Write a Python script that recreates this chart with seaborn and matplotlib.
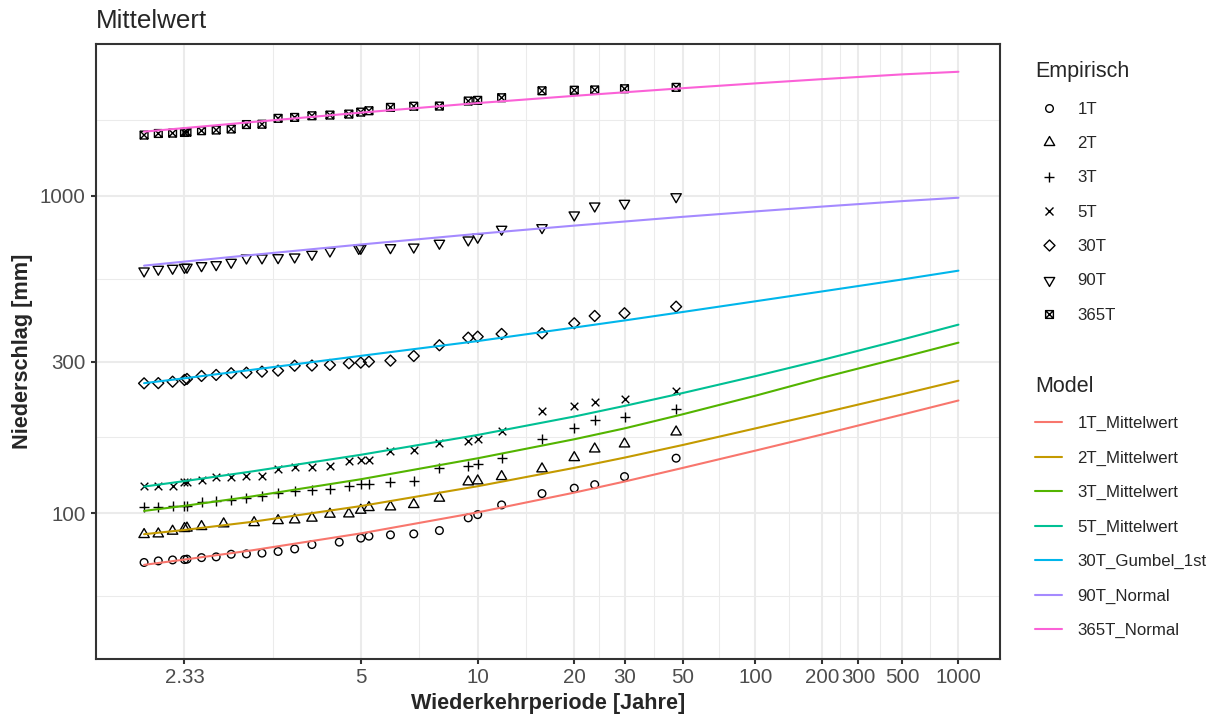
import numpy as np
import pandas as pd
import matplotlib
matplotlib.use("Agg")
import matplotlib.pyplot as plt
from matplotlib.path import Path
from matplotlib.lines import Line2D
from matplotlib.ticker import FixedLocator, FixedFormatter, NullFormatter
from statistics import NormalDist
import seaborn as sns

sns.set_theme(style="white")
plt.rcParams["font.family"] = ["Liberation Sans", "DejaVu Sans"]

# ---------------------------------------------------------------------------
# Empirical quantiles: return period [years] and precipitation [mm]
# ---------------------------------------------------------------------------
t_1T = [2.043, 2.136, 2.238, 2.33, 2.35, 2.474, 2.611, 2.765, 2.938, 3.133, 3.357, 3.615,
        3.917, 4.476, 5, 5.222, 5.875, 6.714, 7.833, 9.4, 10, 11.75, 15.67, 20, 23.5, 30, 47]
p_1T = [69.9, 70.7, 71.2, 71.4, 71.6, 72.4, 72.8, 74.2, 74.4, 74.8, 75.7, 77.1,
        79.6, 81.0, 83.4, 84.6, 85.4, 86.0, 88.1, 96.6, 98.9, 106.1, 115.2, 119.8, 122.9, 130.3, 148.9]

t_2T = [2.043, 2.136, 2.238, 2.33, 2.35, 2.474, 2.686, 3.032, 3.357, 3.615, 3.917, 4.273,
        4.7, 5, 5.222, 5.875, 6.714, 7.833, 9.4, 10, 11.75, 15.67, 20, 23.5, 30, 47]
p_2T = [85.6, 86.0, 87.7, 89.4, 89.7, 90.7, 92.5, 93.3, 94.7, 95.2, 96.4, 99.2,
        99.4, 102.1, 104.1, 104.6, 106.4, 111.4, 125.4, 126.3, 130.3, 137.8, 149.5, 159.2, 165.1, 180.1]

t_3T = [2.043, 2.136, 2.238, 2.33, 2.35, 2.474, 2.611, 2.765, 2.938, 3.133, 3.357, 3.615, 3.917,
        4.273, 4.7, 5, 5.222, 5.875, 6.714, 7.833, 9.4, 10, 11.75, 15.67, 20, 23.5, 30, 47]
p_3T = [104.3, 104.6, 104.9, 105.3, 105.6, 108.2, 109.5, 110.0, 111.4, 113.3, 115.5, 117.7, 118.3,
        119.4, 121.5, 123.3, 123.8, 125.4, 126.6, 139.0, 141.1, 142.5, 148.9, 171.2, 185.0, 196.5,
        200.4, 213.3]

t_5T = t_3T
p_5T = [121.5, 121.8, 122.1, 124.9, 125.3, 127.2, 129.7, 130.2, 130.5, 130.9, 137.5, 139.3, 139.7,
        140.8, 146.3, 146.6, 146.9, 157.3, 157.9, 166.7, 168.8, 171.2, 181.4, 210.2, 217.5, 223.4,
        228.3, 242.4]

t_30T = t_3T
p_30T = [256.2, 256.6, 259.3, 262.6, 264.5, 270.3, 272.3, 275.7, 276.8, 278.9, 280.9, 291.1, 291.5,
         292.8, 296.4, 297.7, 299.9, 302.0, 312.4, 337.7, 356.8, 359.4, 366.5, 368.3, 396.0, 417.6,
         425.9, 446.7]

t_90T = [2.043, 2.136, 2.238, 2.33, 2.35, 2.474, 2.611, 2.765, 2.938, 3.133, 3.357, 3.615, 3.917,
         4.273, 4.947, 5, 5.875, 6.714, 7.833, 9.4, 10, 11.75, 15.67, 20, 23.5, 30, 47]
p_90T = [578.6, 585.8, 590.1, 594.0, 594.6, 601.2, 605.6, 616.2, 635.5, 636.0, 637.1, 640.3, 652.9,
         668.7, 681.5, 682.0, 685.0, 688.0, 707.3, 724.5, 738.9, 782.9, 792.1, 868.5, 926.7, 945.0,
         991.3]

t_365T = t_3T
p_365T = [1550, 1568, 1572, 1580, 1583, 1600, 1608, 1620, 1673, 1677, 1750, 1762, 1783,
          1792, 1805, 1831, 1849, 1895, 1911, 1913, 1984, 1994, 2032, 2137, 2146, 2150, 2169, 2191]

# ---------------------------------------------------------------------------
# Fitted model curves
# ---------------------------------------------------------------------------
model_T = [2.043, 2.33, 3, 5, 10, 20, 30, 50, 100, 200, 500, 1000]
m_1T = [68.7, 71.4, 76.3, 86.3, 100.5, 116.0, 125.7, 138.8, 157.3, 176.7, 204.2, 226.2]
m_2T = [85.8, 88.5, 93.8, 105.2, 121.5, 138.8, 149.5, 163.9, 184.8, 206.4, 236.7, 261.1]
m_3T = [101.6, 105.4, 112.8, 127.8, 148.8, 170.8, 184.8, 204.8, 234.2, 266.6, 309.3, 344.1]
m_5T = [121.2, 126.1, 135.2, 152.6, 176.2, 201.4, 217.5, 238.9, 269.9, 303.3, 351.9, 392.1]
m_30T = [256.5, 265.8, 282.5, 312.7, 348.1, 383.9, 404.2, 429.9, 464.5, 498.7, 544.0, 579.9]
m_90T = [601.5, 619.4, 649.7, 701.1, 757.5, 804.0, 828.2, 857.0, 891.2, 922.8, 960.3, 984.2]
m_365T = [1589, 1631, 1703, 1824, 1955, 2060, 2114, 2178, 2255, 2325, 2407, 2453]

model_names = ["1T_Mittelwert", "2T_Mittelwert", "3T_Mittelwert", "5T_Mittelwert",
               "30T_Gumbel_1st", "90T_Normal", "365T_Normal"]
model_colors = ["#F8766D", "#C49A00", "#53B400", "#00C094", "#00B6EB", "#A58AFF", "#FB61D7"]

emp_names = ["1T", "2T", "3T", "5T", "30T", "90T", "365T"]

x_breaks = [2.33, 5, 10, 20, 30, 50, 100, 200, 300, 500, 1000]
x_labels = ["2.33", "5", "10", "20", "30", "50", "100", "200", "300", "500", "1000"]
x_limits = [2, 1000]
y_breaks = [30, 100, 300, 1000, 3000]
y_labels = ["30", "100", "300", "1000", "3000"]
y_limits = [42.6, 2445]

# ---------------------------------------------------------------------------
# Normal-probability axis for the return period: z = Phi^-1(1 - 1/T)
# ---------------------------------------------------------------------------
_nd = NormalDist()
_inv = np.vectorize(_nd.inv_cdf, otypes=[float])
_cdf = np.vectorize(_nd.cdf, otypes=[float])


def to_z(t):
    t = np.asarray(t, dtype=float)
    p = 1.0 - 1.0 / np.clip(t, 1.0 + 1e-9, 1e12)
    p = np.clip(p, 1e-12, 1 - 1e-12)
    return _inv(p)


def from_z(z):
    z = np.asarray(z, dtype=float)
    p = _cdf(np.clip(z, -30, 30))
    return 1.0 / np.clip(1.0 - p, 1e-15, None)


# ---------------------------------------------------------------------------
# Marker shapes (R-like point symbols)
# ---------------------------------------------------------------------------
tri_up = Path([(0, 1.555), (-1.3468, -0.7776), (1.3468, -0.7776), (0, 1.555)],
              [Path.MOVETO, Path.LINETO, Path.LINETO, Path.CLOSEPOLY])
tri_dn = Path([(0, -1.555), (-1.3468, 0.7776), (1.3468, 0.7776), (0, -1.555)],
              [Path.MOVETO, Path.LINETO, Path.LINETO, Path.CLOSEPOLY])
diamond = Path([(0, 1), (1, 0), (0, -1), (-1, 0), (0, 1)],
               [Path.MOVETO, Path.LINETO, Path.LINETO, Path.LINETO, Path.CLOSEPOLY])
boxed_x = Path([(-1, -1), (1, -1), (1, 1), (-1, 1), (-1, -1),
                (-1, -1), (1, 1), (-1, 1), (1, -1)],
               [Path.MOVETO, Path.LINETO, Path.LINETO, Path.LINETO, Path.CLOSEPOLY,
                Path.MOVETO, Path.LINETO, Path.MOVETO, Path.LINETO])

# (marker, size in points, open outline?)
marker_specs = [("o", 5.5, True), (tri_up, 8.6, True), ("+", 7.8, False), ("x", 5.5, False),
                (diamond, 7.9, True), (tri_dn, 8.6, True), (boxed_x, 5.6, True)]
emp_T = [t_1T, t_2T, t_3T, t_5T, t_30T, t_90T, t_365T]
emp_P = [p_1T, p_2T, p_3T, p_5T, p_30T, p_90T, p_365T]
model_P = [m_1T, m_2T, m_3T, m_5T, m_30T, m_90T, m_365T]

W, H = 1219, 715
fig = plt.figure(figsize=(W / 100, H / 100), dpi=100)
left, right, top, bottom = 96, 999.5, 44.3, 658.7
ax = fig.add_axes([left / W, 1 - bottom / H, (right - left) / W, (bottom - top) / H])

# empirical points
for name, (mk, ms, is_open), tt, pp in zip(emp_names, marker_specs, emp_T, emp_P):
    df = pd.DataFrame({"T": tt, "mm": pp})
    if is_open:
        sns.scatterplot(data=df, x="T", y="mm", ax=ax, marker=mk, s=ms ** 2,
                        color="black", facecolor="none", edgecolor="black",
                        linewidth=1.0, zorder=2, legend=False)
    else:
        sns.scatterplot(data=df, x="T", y="mm", ax=ax, marker=mk, s=ms ** 2,
                        color="black", linewidth=1.0, zorder=2, legend=False)

# model curves
lines_df = pd.concat(
    [pd.DataFrame({"T": model_T, "mm": vals, "model": nm}) for nm, vals in zip(model_names, model_P)],
    ignore_index=True)
sns.lineplot(data=lines_df, x="T", y="mm", hue="model", hue_order=model_names,
             palette=model_colors, estimator=None, sort=True, legend=False,
             linewidth=1.5, ax=ax, zorder=3)

# scales and limits
ax.set_xscale("function", functions=(to_z, from_z))
ax.set_yscale("log")
z0, z1 = to_z(x_limits)
zpad = 0.05 * (z1 - z0)
ax.set_xlim(float(from_z(z0 - zpad)), float(from_z(z1 + zpad)))
ly0, ly1 = np.log10(y_limits)
lpad = 0.05 * (ly1 - ly0)
ax.set_ylim(10 ** (ly0 - lpad), 10 ** (ly1 + lpad))

zb = to_z(x_breaks)
x_minor = from_z((zb[:-1] + zb[1:]) / 2)
ax.xaxis.set_major_locator(FixedLocator(x_breaks))
ax.xaxis.set_major_formatter(FixedFormatter(x_labels))
ax.xaxis.set_minor_locator(FixedLocator(x_minor))
ax.xaxis.set_minor_formatter(NullFormatter())

lb = np.log10(y_breaks)
y_minor = 10 ** ((lb[:-1] + lb[1:]) / 2)
ax.yaxis.set_major_locator(FixedLocator(y_breaks))
ax.yaxis.set_major_formatter(FixedFormatter(y_labels))
ax.yaxis.set_minor_locator(FixedLocator(y_minor))
ax.yaxis.set_minor_formatter(NullFormatter())

# panel styling
ax.set_facecolor("white")
ax.set_axisbelow(True)
ax.grid(True, which="major", color="#EBEBEB", linewidth=1.5)
ax.grid(True, which="minor", color="#EBEBEB", linewidth=0.75)
for sp in ax.spines.values():
    sp.set_visible(True)
    sp.set_color("#333333")
    sp.set_linewidth(1.5)
ax.tick_params(axis="both", which="major", length=3.9, width=1.5, color="#333333",
               labelcolor="#4D4D4D", labelsize=14.8, bottom=True, left=True)
ax.tick_params(axis="x", which="major", pad=2.8)
ax.tick_params(axis="y", which="major", pad=3.4)
ax.tick_params(axis="both", which="minor", length=0)

ax.set_xlabel("Wiederkehrperiode [Jahre]", fontsize=15.6, fontweight="bold", labelpad=4.0)
ax.set_ylabel("Niederschlag [mm]", fontsize=15.6, fontweight="bold", labelpad=4.8)
ax.set_title("Mittelwert", loc="left", fontsize=18.7, pad=11.4)

# legends
emp_handles = [Line2D([], [], linestyle="None", marker=mk, markersize=ms,
                      markerfacecolor="none", markeredgecolor="black", color="black",
                      markeredgewidth=1.0)
               for (mk, ms, _) in marker_specs]
mod_handles = [Line2D([], [], color=c, linewidth=1.5) for c in model_colors]

leg_kw = dict(loc="upper left", frameon=False, fontsize=12.1, title_fontsize=15.5,
              handlelength=1.61, handletextpad=0.91, labelspacing=1.15,
              borderpad=0, borderaxespad=0, alignment="left")
leg1 = fig.legend(emp_handles, emp_names, title="Empirisch",
                  bbox_to_anchor=(1035 / W, 1 - 61.5 / H), **leg_kw)
leg2 = fig.legend(mod_handles, model_names, title="Model",
                  bbox_to_anchor=(1035 / W, 1 - 376 / H), **leg_kw)

fig.savefig("out.png", dpi=100, facecolor="white")
